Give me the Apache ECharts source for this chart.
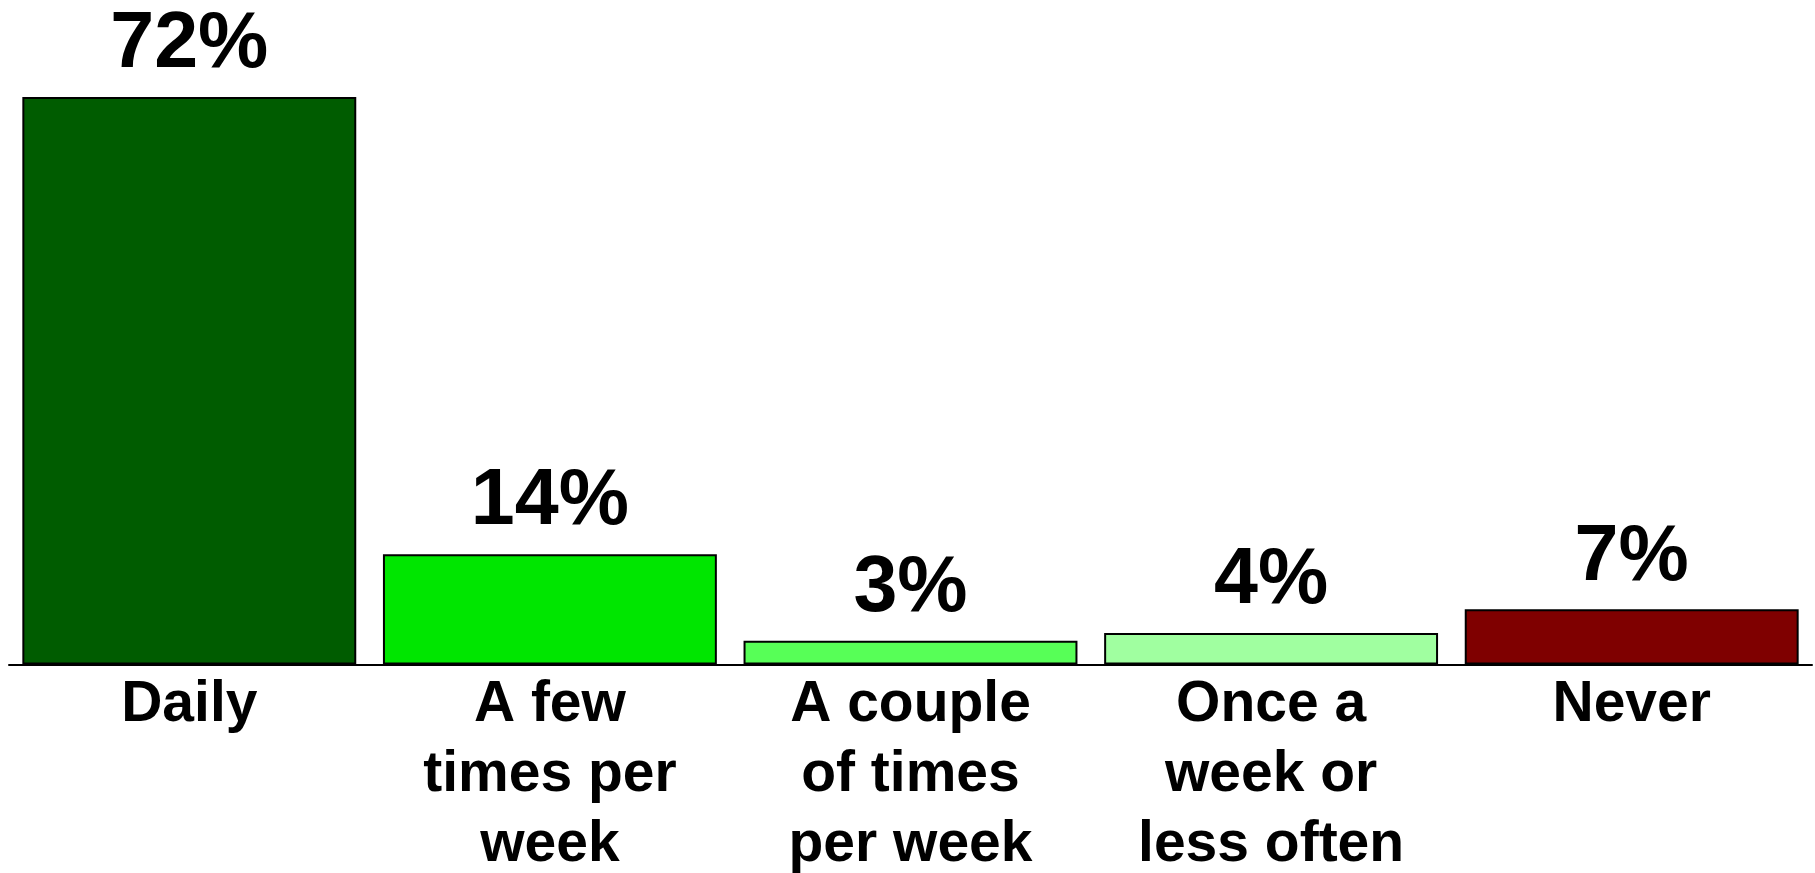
<!DOCTYPE html>
<html><head><meta charset="utf-8">
<style>html,body{margin:0;padding:0;background:#fff}#c{width:1815px;height:873px}</style>
<script src="https://cdn.jsdelivr.net/npm/echarts@6/dist/echarts.min.js"></script>
</head><body><div id="c"></div>
<script>
var categories = ["Daily", "A few\ntimes per\nweek", "A couple\nof times\nper week", "Once a\nweek or\nless often", "Never"];
var values = [72, 14, 3, 4, 7];
var colors = ["#005c00", "#00e600", "#57ff57", "#a0ffa0", "#7f0000"];
var font = "'Liberation Sans', Arial, sans-serif";
var chart = echarts.init(document.getElementById('c'));
chart.setOption({
  animation: false,
  grid: {left: 9, right: 3, top: 34, bottom: 208.5, containLabel: false, outerBoundsMode: 'none'},
  xAxis: {
    type: 'category', data: categories,
    axisLine: {lineStyle: {color: '#000', width: 2}},
    axisTick: {show: false},
    axisLabel: {color: '#000', fontFamily: font, fontWeight: 'bold', fontSize: 57, lineHeight: 70, margin: 6, interval: 0}
  },
  yAxis: {type: 'value', min: 0, max: 80, show: false, splitLine: {show: false}},
  series: [{
    type: 'bar', barCategoryGap: '7.4%',
    data: values.map(function (v, i) { return {value: v, itemStyle: {color: colors[i]}}; }),
    itemStyle: {borderColor: '#000', borderWidth: 2},
    label: {show: true, position: 'top', distance: 12, formatter: '{c}%', color: '#000', fontFamily: font, fontWeight: 'bold', fontSize: 79, lineHeight: 79}
  }]
});
</script></body></html>
